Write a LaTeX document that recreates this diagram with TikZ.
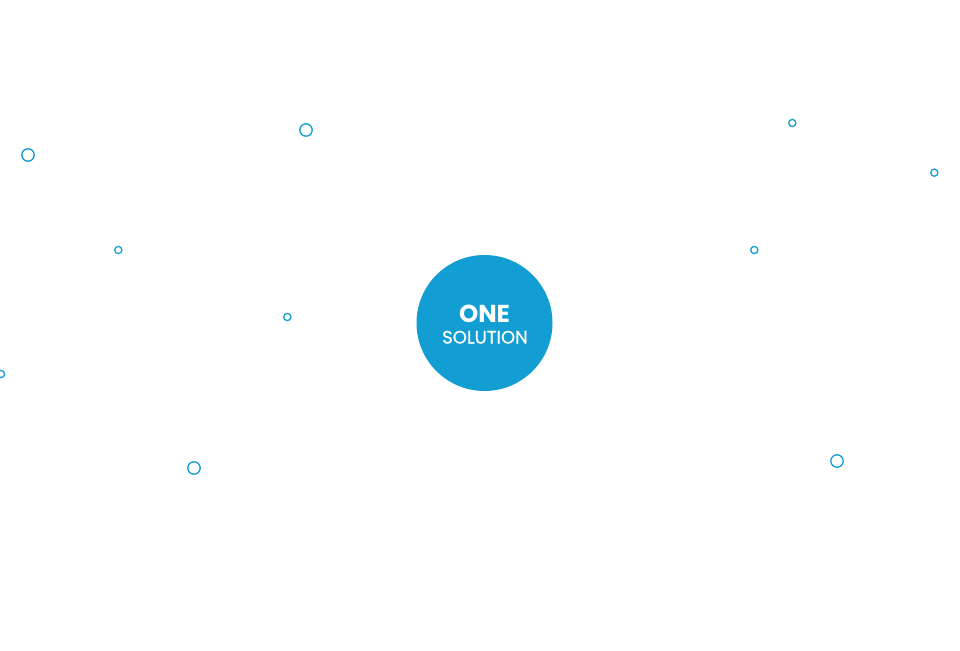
\documentclass[tikz,border=0pt]{standalone}
\usepackage{fontspec}
\setmainfont{Poppins}
\newfontfamily\solfont[FakeBold=0.6]{Poppins}
\definecolor{oneblue}{HTML}{129ED3}
\begin{document}
\begin{tikzpicture}[x=1pt,y=-1pt,
  dot/.style={circle,draw=oneblue,line width=1.3pt,fill=white,inner sep=0pt},
  bigdot/.style={dot,minimum size=12.4pt},
  smalldot/.style={dot,minimum size=7.2pt},
  hub/.style={circle,fill=oneblue,inner sep=0pt,minimum size=136pt},
  hubtxt/.style={text=white,anchor=base,inner sep=0pt}]
\useasboundingbox[fill=white] (0,0) rectangle (960,650);
\node[hub] (hub) at (484.5,323) {};
\node[hubtxt,font=\bfseries\fontsize{24.5}{26}\selectfont] (one) at (484.5,322.5) {ONE};
\node[hubtxt,font=\solfont\fontsize{18}{20}\selectfont] (sol) at (485,343.5) {SOLUTION};
\node[bigdot] (d1) at (28,155) {};
\node[bigdot] (d2) at (306,130) {};
\node[bigdot] (d3) at (194,468) {};
\node[bigdot] (d4) at (837,461) {};
\node[smalldot] (d5) at (118.3,250) {};
\node[smalldot] (d6) at (287.3,317) {};
\node[smalldot] (d7) at (1,374) {};
\node[smalldot] (d8) at (792.3,123) {};
\node[smalldot] (d9) at (934.3,172.7) {};
\node[smalldot] (d10) at (754.3,250) {};
\end{tikzpicture}
\end{document}
